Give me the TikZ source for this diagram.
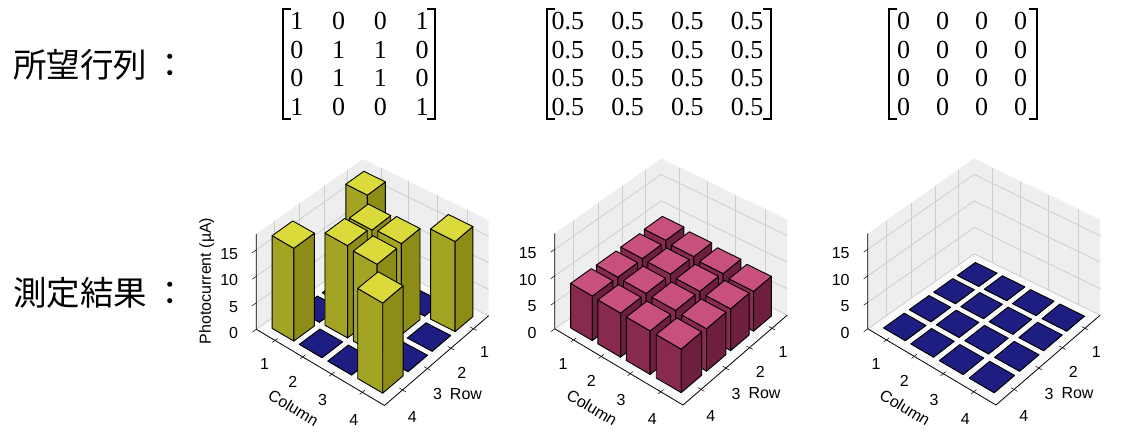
\documentclass[tikz,border=0pt]{standalone}
\usepackage{fontspec}
\newfontfamily\jpfont{Noto Sans CJK JP}
\newfontfamily\axfont{Liberation Sans}
\newfontfamily\serfont{Liberation Serif}
\usepackage{tikz}
\usetikzlibrary{calc,matrix}

\definecolor{wallpane}{RGB}{238,238,238}
\definecolor{floorpane}{RGB}{250,250,250}
\definecolor{gridc}{RGB}{205,205,205}
\definecolor{ybtop}{RGB}{218,218,58}
\definecolor{ybleft}{RGB}{163,163,36}
\definecolor{ybright}{RGB}{140,140,22}
\definecolor{mbtop}{RGB}{200,80,125}
\definecolor{mbleft}{RGB}{136,42,80}
\definecolor{mbright}{RGB}{110,30,62}
\definecolor{nvtop}{RGB}{30,30,130}
\definecolor{nvleft}{RGB}{22,22,95}
\definecolor{nvright}{RGB}{15,15,70}

\tikzset{
  face/.style={draw=black, line width=0.9pt, line join=round},
  gridline/.style={gridc, line width=0.8pt},
  axline/.style={black, line width=0.8pt},
  tickline/.style={black, line width=0.5pt},
  ticklab/.style={font=\axfont\fontsize{16}{16}\selectfont, inner sep=0pt},
  axlab/.style={font=\axfont\fontsize{16}{16}\selectfont, inner sep=0pt},
  tgtmat/.style={matrix of nodes, column sep=0pt, row sep=0pt,
    nodes={font=\serfont\fontsize{26}{26}\selectfont, inner sep=0pt,
      minimum height=28.5pt, anchor=center}},
  bracket/.style={black, line width=1.6pt},
  title/.style={font=\jpfont\fontsize{33.5}{33.5}\selectfont, anchor=west, inner sep=0pt}
}

% point of a chart: name, column, row, height
\newcommand{\setpt}[4]{\coordinate (#1) at ({px(#2,#3)},{py(#2,#3,#4)});}

% one bar: column, row, height, colour prefix
\newcommand{\pillar}[4]{%
  \setpt{p1}{#1-.4}{#2+.4}{0}\setpt{p2}{#1+.4}{#2+.4}{0}\setpt{p3}{#1+.4}{#2-.4}{0}%
  \setpt{q0}{#1-.4}{#2-.4}{#3}\setpt{q1}{#1-.4}{#2+.4}{#3}%
  \setpt{q2}{#1+.4}{#2+.4}{#3}\setpt{q3}{#1+.4}{#2-.4}{#3}%
  \filldraw[face, fill=#4left] (p1) -- (p2) -- (q2) -- (q1) -- cycle;
  \filldraw[face, fill=#4right] (p2) -- (p3) -- (q3) -- (q2) -- cycle;
  \filldraw[face, fill=#4top] (q0) -- (q1) -- (q2) -- (q3) -- cycle;
}

% panes, grid, axes and tick labels of one chart
\newcommand{\chartframe}{%
  \setpt{b0}{.3}{.3}{0}\setpt{b1}{.3}{.3}{18}%
  \setpt{l0}{.3}{4.7}{0}\setpt{l1}{.3}{4.7}{18}%
  \setpt{r0}{4.7}{.3}{0}\setpt{r1}{4.7}{.3}{18}%
  \setpt{f0}{4.7}{4.7}{0}%
  \fill[wallpane] (b0) -- (l0) -- (l1) -- (b1) -- cycle;
  \fill[wallpane] (b0) -- (r0) -- (r1) -- (b1) -- cycle;
  \fill[floorpane] (b0) -- (r0) -- (f0) -- (l0) -- cycle;
  \foreach \tk in {1,...,4}{%
    \setpt{ga}{.3}{\tk}{0}\setpt{gb}{.3}{\tk}{18}%
    \draw[gridline] (ga) -- (gb);
    \setpt{ga}{\tk}{.3}{0}\setpt{gb}{\tk}{.3}{18}%
    \draw[gridline] (ga) -- (gb);
  }
  \foreach \tk in {0,5,10,15}{%
    \setpt{ga}{.3}{4.7}{\tk}\setpt{gb}{.3}{.3}{\tk}\setpt{gc}{4.7}{.3}{\tk}%
    \draw[gridline] (ga) -- (gb) -- (gc);
  }
  \draw[axline] (l1) -- (l0) -- (f0) -- (r0);
  \foreach \tk in {0,5,10,15}{%
    \setpt{ga}{.3}{4.7}{\tk}\setpt{gb}{.3}{4.85}{\tk}%
    \draw[tickline] (ga) -- (gb);
    \node[ticklab, anchor=east, xshift=-18pt, yshift=-4pt] (zt\tk) at (ga) {\tk};
  }
  \foreach \tk in {1,...,4}{%
    \setpt{ga}{\tk}{4.6}{0}\setpt{gb}{\tk}{4.8}{0}%
    \draw[tickline] (ga) -- (gb);
    \setpt{ga}{4.6}{\tk}{0}\setpt{gb}{4.8}{\tk}{0}%
    \draw[tickline] (ga) -- (gb);
    \setpt{ga}{\tk+.44}{5.53}{0}%
    \node[ticklab] (ct\tk) at (ga) {\tk};
    \setpt{ga}{5.44}{\tk+.57}{0}%
    \node[ticklab] (rt\tk) at (ga) {\tk};
  }
  \setpt{ga}{3.08}{6.18}{0}%
  \node[axlab, rotate=-31] (collab) at (ga) {Column};
  \setpt{ga}{5.95}{3.11}{0}%
  \node[axlab] (rowlab) at (ga) {Row};
}

\begin{document}
\begin{tikzpicture}[x=1pt, y=-1pt,
  declare function={
    sc(\pc,\pr)=1/(1-0.0225*(\pc+\pr-5));
    px(\pc,\pr)=sc(\pc,\pr)*((\pc-2.5)*28.86-(\pr-2.5)*23.95);
    py(\pc,\pr,\pz)=sc(\pc,\pr)*((\pc-2.5)*15.45+(\pr-2.5)*18.55)-5.3*\pz;
  }]
\fill[white] (0,0) rectangle (1124,436);
\useasboundingbox (0,0) rectangle (1124,436);

% row labels
\node[title] (want) at (13,65) {所望行列\hspace{6pt}：};
\node[title] (meas) at (13,293) {測定結果\hspace{6pt}：};

% target matrices
\matrix[tgtmat, nodes={minimum width=41.7pt}] (m1) at (359.5,64)
  {1&0&0&1\\0&1&1&0\\0&1&1&0\\1&0&0&1\\};
\matrix[tgtmat, nodes={minimum width=59.7pt}] (m2) at (657.5,64)
  {0.5&0.5&0.5&0.5\\0.5&0.5&0.5&0.5\\0.5&0.5&0.5&0.5\\0.5&0.5&0.5&0.5\\};
\matrix[tgtmat, nodes={minimum width=39pt}] (m3) at (962,64)
  {0&0&0&0\\0&0&0&0\\0&0&0&0\\0&0&0&0\\};
\draw[bracket] (291,9) -- (283,9) -- (283,119) -- (291,119);
\draw[bracket] (427,9) -- (435,9) -- (435,119) -- (427,119);
\draw[bracket] (555,9) -- (547,9) -- (547,119) -- (555,119);
\draw[bracket] (763,9) -- (771,9) -- (771,119) -- (763,119);
\draw[bracket] (897,9) -- (889,9) -- (889,119) -- (897,119);
\draw[bracket] (1029,9) -- (1037,9) -- (1037,119) -- (1029,119);

% measured: chart 1
\node[axlab, rotate=90] (ylab) at (206.7,281) {Photocurrent (µA)};
\begin{scope}[shift={(372.5,322.5)}]
\chartframe
\foreach \i/\j/\hv/\hue in {1/1/17.3/yb, 1/2/0/nv, 2/1/0/nv, 1/3/0/nv, 2/2/16.8/yb, 3/1/0/nv,
  1/4/17.5/yb, 2/3/17.4/yb, 3/2/17.2/yb, 4/1/17/yb, 2/4/0/nv, 3/3/17/yb, 4/2/0/nv,
  3/4/0/nv, 4/3/0/nv, 4/4/17/yb}
  \pillar{\i}{\j}{\hv}{\hue};
\end{scope}

% measured: chart 2
\begin{scope}[shift={(671,322)}]
\chartframe
\foreach \i/\j/\hv in {1/1/8.7, 1/2/8.5, 2/1/8.3, 1/3/8.4, 2/2/8.4, 3/1/7.9, 1/4/8.4, 2/3/8.3,
  3/2/8.1, 4/1/7.5, 2/4/8.3, 3/3/8.2, 4/2/7.9, 3/4/8.2, 4/3/8, 4/4/8.2}
  \pillar{\i}{\j}{\hv}{mb};
\end{scope}

% measured: chart 3
\begin{scope}[shift={(984,322)}]
\chartframe
\foreach \i in {1,...,4}
  \foreach \j in {1,...,4}
    \pillar{\i}{\j}{0}{nv};
\end{scope}
\end{tikzpicture}
\end{document}
